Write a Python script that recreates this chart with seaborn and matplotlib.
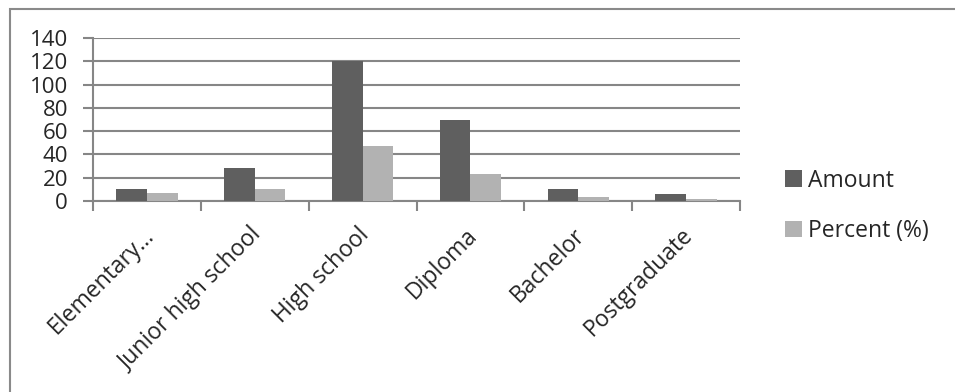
import matplotlib
matplotlib.use("Agg")
import matplotlib.pyplot as plt
import matplotlib.transforms as mtransforms
from matplotlib.patches import Rectangle
import seaborn as sns
import pandas as pd

categories = ["Elementary…", "Junior high school", "High school", "Diploma", "Bachelor", "Postgraduate"]
amount = [10, 28, 120, 70, 10, 6]
percent = [7.2, 10, 47, 23.5, 3.2, 1.5]
series_names = ["Amount", "Percent (%)"]
y_ticks = [0, 20, 40, 60, 80, 100, 120, 140]

df = pd.DataFrame({
    "category": categories * 2,
    "value": amount + percent,
    "series": [series_names[0]] * len(categories) + [series_names[1]] * len(categories),
})

sns.set_theme(style="white")
plt.rcParams["font.family"] = ["Open Sans", "DejaVu Sans"]

fig = plt.figure(figsize=(9.55, 3.92), dpi=100)
ax = fig.add_axes([93 / 955, 1 - 201 / 392, (740 - 93) / 955, (201 - 38) / 392])

grid_col = "#868686"
sns.barplot(data=df, x="category", y="value", hue="series", order=categories,
            hue_order=series_names, palette=["#5f5f5f", "#b2b2b2"],
            width=0.57, gap=0, saturation=1, ax=ax, legend=True,
            linewidth=0, zorder=3)

ax.set_ylim(0, 140)
ax.set_xlim(-0.5, len(categories) - 0.5)
ax.set_yticks(y_ticks)
ax.set_yticklabels([str(t) for t in y_ticks], fontsize=16)
ax.yaxis.grid(True, color=grid_col, linewidth=1.5, zorder=0)
ax.set_axisbelow(True)
ax.set_xlabel("")
ax.set_ylabel("")

# category boundaries as outward tick marks
ax.set_xticks([i - 0.5 for i in range(len(categories) + 1)], minor=False)
ax.set_xticklabels([])
ax.set_xticks(range(len(categories)), minor=True)
ax.set_xticklabels(categories, minor=True, rotation=45, ha="right",
                   rotation_mode="anchor", fontsize=16.5)
ax.tick_params(axis="x", which="major", direction="out", length=7, width=1.5,
               color=grid_col, bottom=True)
ax.tick_params(axis="x", which="minor", length=0, pad=16)
ax.tick_params(axis="y", direction="out", length=7, width=1.5, color=grid_col,
               left=True, pad=11)
shift = mtransforms.ScaledTranslation(-5 / 100, 0, fig.dpi_scale_trans)
for lbl in ax.get_xticklabels(minor=True):
    lbl.set_transform(lbl.get_transform() + shift)
for side in ["top", "right"]:
    ax.spines[side].set_visible(False)
for side in ["left", "bottom"]:
    ax.spines[side].set_color(grid_col)
    ax.spines[side].set_linewidth(1.5)

leg = ax.legend(loc="center left", bbox_to_anchor=(1.055, -0.03), frameon=False,
                fontsize=16.5, handlelength=0.75, handleheight=0.75,
                handletextpad=0.25, labelspacing=1.15, borderaxespad=0)
for h in leg.legend_handles:
    h.set_linewidth(0)

# outer chart frame
fig.patches.append(Rectangle((10 / 955, -0.02), 1.0, 1 - 9 / 392 + 0.02,
                             transform=fig.transFigure, fill=False,
                             edgecolor="#8a8a8a", linewidth=1.5))

fig.savefig("out.png", dpi=100)
